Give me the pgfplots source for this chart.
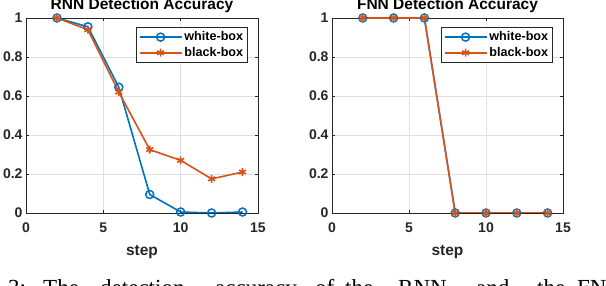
\documentclass[border=0pt]{standalone}
\usepackage{pgfplots}
\pgfplotsset{compat=1.18}
\usepackage{fontspec}
\setmainfont{Liberation Sans}
\newfontfamily\capfont{Liberation Serif}
\definecolor{mblue}{RGB}{0,114,189}
\definecolor{morange}{RGB}{217,83,25}
\definecolor{axgray}{RGB}{38,38,38}
\pgfplotsset{
 mstyle/.style={
  scale only axis, width=232pt, height=195pt,
  xmin=0,xmax=15,ymin=0,ymax=1,
  xtick={0,5,10,15}, ytick={0,0.2,0.4,0.6,0.8,1},
  tick align=inside, tick pos=both, major tick length=3pt,
  grid=major, major grid style={color=black!12, line width=0.5pt},
  axis line style={axgray, line width=0.6pt},
  tick style={axgray, line width=0.6pt},
  ticklabel style={font=\fontsize{14}{14}\selectfont\bfseries, text=axgray},
  xticklabel style={yshift=-6pt},
  /pgf/number format/assume math mode=true,
  title style={font=\fontsize{15.5}{15.5}\selectfont\bfseries, at={(0.5,1)}, anchor=base, yshift=2pt, text=black},
  xlabel style={font=\fontsize{15.5}{15.5}\selectfont\bfseries, at={(0.5,0)}, anchor=base, yshift=-43pt, text=axgray},
  legend style={at={(1,1)}, anchor=north east, xshift=-10pt, yshift=-9pt, draw=axgray, line width=0.6pt, font=\fontsize{12.6}{12.6}\selectfont\bfseries, inner sep=2.5pt, row sep=1pt},
  legend cell align=left,
  legend image code/.code={\draw[mark repeat=2, mark phase=2] plot coordinates {(0pt,0pt)(21pt,0pt)(42pt,0pt)};},
  wb/.style={color=mblue, line width=1.6pt, mark=o, mark size=4pt, mark options={line width=1.5pt}},
  bb/.style={color=morange, line width=1.6pt, mark=asterisk, mark size=4pt, mark options={line width=1.6pt}},
 }
}
\begin{document}
\begin{tikzpicture}
\path[use as bounding box] (0,0) rectangle (606pt,286pt);
\clip (0,0) rectangle (606pt,286pt);
\begin{axis}[mstyle, at={(26pt,73pt)}, anchor=south west, title={RNN Detection Accuracy}, xlabel={step}]
\addplot[wb] coordinates {(2,1) (4,0.955) (6,0.645) (8,0.095) (10,0.005) (12,0.0) (14,0.005)};
\addlegendentry{white-box}
\addplot[bb] coordinates {(2,1) (4,0.94) (6,0.62) (8,0.325) (10,0.27) (12,0.175) (14,0.21)};
\addlegendentry{black-box}
\end{axis}
\begin{axis}[mstyle, width=231pt, at={(332pt,73pt)}, anchor=south west, title={FNN Detection Accuracy}, xlabel={step}]
\addplot[wb] coordinates {(2,1) (4,1) (6,1) (8,0) (10,0) (12,0) (14,0)};
\addlegendentry{white-box}
\addplot[bb] coordinates {(2,1) (4,1) (6,1) (8,0) (10,0) (12,0) (14,0)};
\addlegendentry{black-box}
\end{axis}
\begin{scope}[every node/.style={anchor=base west, inner sep=0pt, font=\capfont\fontsize{23}{23}\selectfont}]
\node at (8pt,-10pt) {3:};
\node at (43pt,-10pt) {The};
\node at (100pt,-10pt) {detection};
\node at (215pt,-10pt) {accuracy};
\node at (315pt,-10pt) {of};
\node at (345pt,-10pt) {the};
\node at (398pt,-10pt) {RNN};
\node at (476pt,-10pt) {and};
\node at (537pt,-10pt) {the};
\node at (577pt,-10pt) {FNN};
\end{scope}
\end{tikzpicture}
\end{document}
